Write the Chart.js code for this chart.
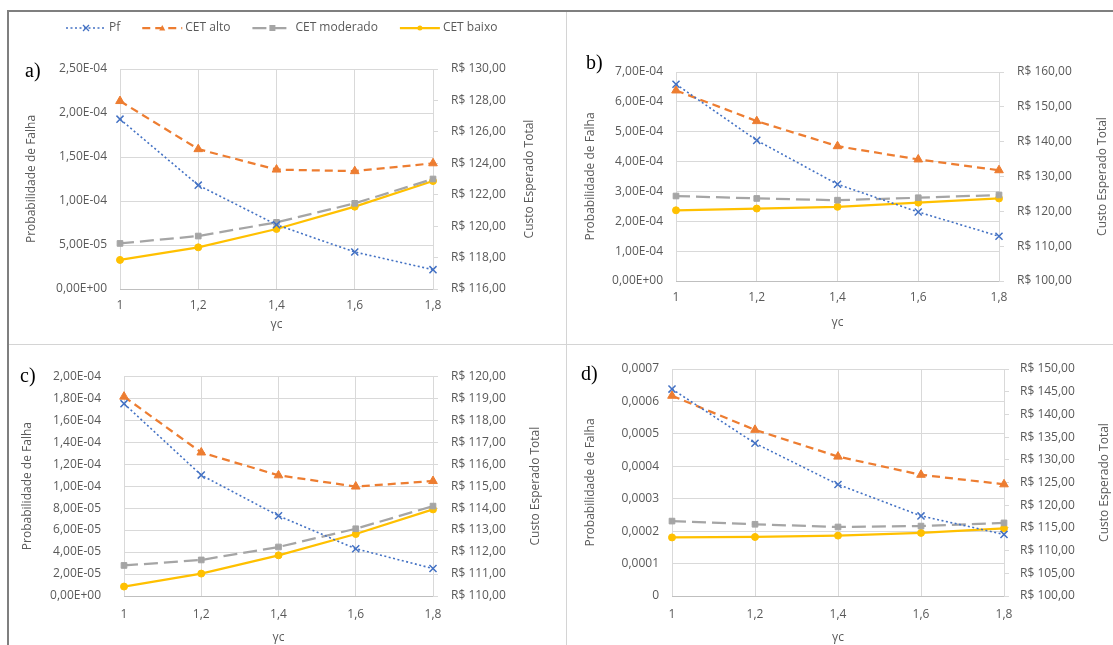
<!DOCTYPE html>
<html>
<head>
<meta charset="utf-8">
<script src="https://cdn.jsdelivr.net/npm/chart.js@4.4.1/dist/chart.umd.min.js"></script>
<style>
  html, body { margin: 0; padding: 0; background: #fff; }
  body { width: 1113px; height: 645px; position: relative; overflow: hidden; }
  canvas { position: absolute; }
  .line { position: absolute; }
  .plabel { position: absolute; font-family: "Liberation Serif", "DejaVu Serif", serif; font-size: 20px; line-height: 20px; color: #000; }
</style>
</head>
<body>
<div class="line" style="left:7px;top:10px;width:1106px;height:2px;background:#7f7f7f"></div>
<div class="line" style="left:7px;top:10px;width:2px;height:635px;background:#7f7f7f"></div>
<div class="line" style="left:566px;top:12px;width:1px;height:633px;background:#d4d4d4"></div>
<div class="line" style="left:9px;top:344px;width:1104px;height:1px;background:#d4d4d4"></div>

<canvas id="ca" width="556" height="330" style="left:9px;top:13px"></canvas>
<canvas id="cb" width="546" height="330" style="left:567px;top:13px"></canvas>
<canvas id="cc" width="556" height="299" style="left:9px;top:346px"></canvas>
<canvas id="cd" width="546" height="299" style="left:567px;top:346px"></canvas>

<div class="plabel" style="left:25px;top:60px">a)</div>
<div class="plabel" style="left:586px;top:52px">b)</div>
<div class="plabel" style="left:20px;top:365px">c)</div>
<div class="plabel" style="left:581px;top:363px">d)</div>

<script>
// ---------------- DATA ----------------
const gammaC = ['1', '1,2', '1,4', '1,6', '1,8'];
const seriesNames = ['Pf', 'CET alto', 'CET moderado', 'CET baixo'];
const xTitle = 'γc';
const leftTitle = 'Probabilidade de Falha';
const rightTitle = 'Custo Esperado Total';

// a)
const pfA       = [1.93e-4, 1.18e-4, 7.3e-5, 4.2e-5, 2.2e-5];
const cetAltoA  = [127.96, 124.9, 123.6, 123.5, 124.0];
const cetModA   = [118.9, 119.37, 120.24, 121.45, 123.0];
const cetBaixoA = [117.85, 118.65, 119.82, 121.24, 122.87];
const leftValsA  = [0, 5e-5, 1e-4, 1.5e-4, 2e-4, 2.5e-4];
const leftLblsA  = ['0,00E+00', '5,00E-05', '1,00E-04', '1,50E-04', '2,00E-04', '2,50E-04'];
const rightValsA = [116, 118, 120, 122, 124, 126, 128, 130];
const rightLblsA = ['R$ 116,00', 'R$ 118,00', 'R$ 120,00', 'R$ 122,00', 'R$ 124,00', 'R$ 126,00', 'R$ 128,00', 'R$ 130,00'];

// b)
const pfB       = [6.59e-4, 4.71e-4, 3.24e-4, 2.31e-4, 1.50e-4];
const cetAltoB  = [154.7, 145.9, 138.7, 134.9, 131.8];
const cetModB   = [124.4, 123.7, 123.2, 123.9, 124.7];
const cetBaixoB = [120.3, 120.8, 121.3, 122.5, 123.7];
const leftValsB  = [0, 1e-4, 2e-4, 3e-4, 4e-4, 5e-4, 6e-4, 7e-4];
const leftLblsB  = ['0,00E+00', '1,00E-04', '2,00E-04', '3,00E-04', '4,00E-04', '5,00E-04', '6,00E-04', '7,00E-04'];
const rightValsB = [100, 110, 120, 130, 140, 150, 160];
const rightLblsB = ['R$ 100,00', 'R$ 110,00', 'R$ 120,00', 'R$ 130,00', 'R$ 140,00', 'R$ 150,00', 'R$ 160,00'];

// c)
const pfC       = [1.75e-4, 1.10e-4, 7.3e-5, 4.3e-5, 2.5e-5];
const cetAltoC  = [119.07, 116.53, 115.49, 114.98, 115.23];
const cetModC   = [111.39, 111.64, 112.23, 113.06, 114.09];
const cetBaixoC = [110.43, 111.02, 111.85, 112.82, 113.94];
const leftValsC  = [0, 2e-5, 4e-5, 6e-5, 8e-5, 1e-4, 1.2e-4, 1.4e-4, 1.6e-4, 1.8e-4, 2e-4];
const leftLblsC  = ['0,00E+00', '2,00E-05', '4,00E-05', '6,00E-05', '8,00E-05', '1,00E-04', '1,20E-04', '1,40E-04', '1,60E-04', '1,80E-04', '2,00E-04'];
const rightValsC = [110, 111, 112, 113, 114, 115, 116, 117, 118, 119, 120];
const rightLblsC = ['R$ 110,00', 'R$ 111,00', 'R$ 112,00', 'R$ 113,00', 'R$ 114,00', 'R$ 115,00', 'R$ 116,00', 'R$ 117,00', 'R$ 118,00', 'R$ 119,00', 'R$ 120,00'];

// d)
const pfD       = [6.38e-4, 4.71e-4, 3.44e-4, 2.47e-4, 1.90e-4];
const cetAltoD  = [144.1, 136.6, 130.7, 126.7, 124.6];
const cetModD   = [116.5, 115.8, 115.2, 115.4, 116.1];
const cetBaixoD = [112.9, 113.0, 113.3, 113.9, 114.9];
const leftValsD  = [0, 0.0001, 0.0002, 0.0003, 0.0004, 0.0005, 0.0006, 0.0007];
const leftLblsD  = ['0', '0,0001', '0,0002', '0,0003', '0,0004', '0,0005', '0,0006', '0,0007'];
const rightValsD = [100, 105, 110, 115, 120, 125, 130, 135, 140, 145, 150];
const rightLblsD = ['R$ 100,00', 'R$ 105,00', 'R$ 110,00', 'R$ 115,00', 'R$ 120,00', 'R$ 125,00', 'R$ 130,00', 'R$ 135,00', 'R$ 140,00', 'R$ 145,00', 'R$ 150,00'];

// ---------------- STYLE ----------------
const FS = 12;
const FONT = '"Open Sans", "DejaVu Sans", sans-serif';
const TXT = '#595959';
const GRID = '#d9d9d9';
const LH = FS * 1.2;

const seriesStyle = [
  { color: '#4472C4', dash: [2, 2.5], width: 1.6, point: 'crossRot', radius: 5, pbw: 1.5, axis: 'y' },
  { color: '#ED7D31', dash: [8, 5],   width: 2.25, point: 'triangle', radius: 5, pbw: 1, axis: 'y2' },
  { color: '#A5A5A5', dash: [14, 6],  width: 2.25, point: 'rect', radius: 4, pbw: 1, axis: 'y2' },
  { color: '#FFC000', dash: [],       width: 2.25, point: 'circle', radius: 3.5, pbw: 1, axis: 'y2' }
];

function drawMarker(ctx, style, x, y, r, color) {
  ctx.save();
  ctx.fillStyle = color; ctx.strokeStyle = color; ctx.setLineDash([]);
  ctx.beginPath();
  if (style === 'crossRot') {
    ctx.lineWidth = 1.3;
    ctx.moveTo(x - r, y - r); ctx.lineTo(x + r, y + r);
    ctx.moveTo(x - r, y + r); ctx.lineTo(x + r, y - r);
    ctx.stroke();
  } else if (style === 'triangle') {
    ctx.moveTo(x, y - r); ctx.lineTo(x + r, y + r * 0.8); ctx.lineTo(x - r, y + r * 0.8); ctx.closePath(); ctx.fill();
  } else if (style === 'rect') {
    ctx.rect(x - r, y - r, 2 * r, 2 * r); ctx.fill();
  } else {
    ctx.arc(x, y, r, 0, Math.PI * 2); ctx.fill();
  }
  ctx.restore();
}

const rightTitlePlugin = {
  id: 'rightTitle',
  afterDraw(chart, args, opts) {
    const { ctx, chartArea } = chart;
    ctx.save();
    ctx.translate(opts.x, (chartArea.top + chartArea.bottom) / 2);
    ctx.rotate(-Math.PI / 2);
    ctx.font = FS + 'px ' + FONT;
    ctx.fillStyle = TXT; ctx.textAlign = 'center'; ctx.textBaseline = 'middle';
    ctx.fillText(opts.text, 0, 0);
    ctx.restore();
  }
};

const topLegendPlugin = {
  id: 'topLegend',
  afterDraw(chart, args, opts) {
    if (!opts.show) return;
    const ctx = chart.ctx;
    let x = opts.x; const y = opts.y;
    ctx.save();
    ctx.font = FS + 'px ' + FONT;
    chart.data.datasets.forEach((ds, i) => {
      const st = seriesStyle[i];
      ctx.save();
      ctx.strokeStyle = st.color; ctx.lineWidth = st.width; ctx.setLineDash(st.dash);
      ctx.beginPath(); ctx.moveTo(x, y); ctx.lineTo(x + opts.sample, y); ctx.stroke();
      ctx.restore();
      drawMarker(ctx, st.point, x + opts.sample / 2, y, st.point === 'circle' ? 2.5 : 3, st.color);
      x += opts.sample + 3;
      ctx.fillStyle = TXT; ctx.textAlign = 'left'; ctx.textBaseline = 'middle';
      ctx.fillText(ds.label, x, y);
      x += ctx.measureText(ds.label).width + opts.gap;
    });
    ctx.restore();
  }
};

function makePanel(id, g, series, left, right, legend) {
  const W = g.w, H = g.h;
  const PL = g.plotL - g.x, PR = g.plotR - g.x, PT = g.plotT - g.y, PB = g.plotB - g.y;
  const datasets = series.map((vals, i) => {
    const st = seriesStyle[i];
    return {
      label: seriesNames[i], data: vals, yAxisID: st.axis,
      borderColor: st.color, backgroundColor: st.color, borderWidth: st.width, borderDash: st.dash,
      pointStyle: st.point, pointRadius: st.radius, pointBackgroundColor: st.color, pointBorderColor: st.color,
      pointBorderWidth: st.pbw, tension: 0, fill: false
    };
  });
  const tickFont = { family: FONT, size: FS };
  return new Chart(document.getElementById(id), {
    type: 'line',
    data: { labels: gammaC, datasets },
    options: {
      responsive: false, animation: false, devicePixelRatio: 1,
      layout: { padding: { left: 0, top: PT, right: 0, bottom: 0 } },
      plugins: {
        legend: { display: false }, tooltip: { enabled: false },
        rightTitle: { text: rightTitle, x: g.rightTitleX - g.x },
        topLegend: legend ? { show: true, x: legend.x - g.x, y: legend.y - g.y, sample: 40, gap: 22 } : { show: false }
      },
      scales: {
        x: {
          type: 'category', offset: false,
          grid: { color: GRID, drawTicks: false, offset: false },
          border: { color: '#bfbfbf' },
          ticks: { color: TXT, font: tickFont, padding: g.xTickY - g.plotB - LH / 2, maxRotation: 0, autoSkip: false },
          title: { display: true, text: xTitle, color: TXT, font: tickFont, padding: { top: 0, bottom: Math.max(0, (g.y + H) - g.xTitleY - LH / 2) } },
          afterFit: s => { s.height = H - PB; }
        },
        y: {
          position: 'left', min: left.vals[0], max: left.vals[left.vals.length - 1],
          grid: { color: GRID, drawTicks: false },
          border: { display: false },
          afterBuildTicks: s => { s.ticks = left.vals.map(v => ({ value: v })); },
          ticks: { color: TXT, font: tickFont, padding: g.plotL - g.leftTickR, callback: (v, i) => left.lbls[i] },
          title: { display: true, text: leftTitle, color: TXT, font: tickFont, padding: { top: (g.leftTitleX - g.x) - LH / 2, bottom: 0 } },
          afterFit: s => { s.width = PL; }
        },
        y2: {
          position: 'right', min: right.vals[0], max: right.vals[right.vals.length - 1],
          grid: { drawOnChartArea: false, drawTicks: true, tickLength: 5, color: GRID },
          border: { color: GRID },
          afterBuildTicks: s => { s.ticks = right.vals.map(v => ({ value: v })); },
          ticks: { color: TXT, font: tickFont, padding: g.rightTickL - g.plotR - 5, callback: (v, i) => right.lbls[i] },
          afterFit: s => { s.width = W - PR; }
        }
      }
    },
    plugins: [rightTitlePlugin, topLegendPlugin]
  });
}

makePanel('ca',
  { x: 9, y: 13, w: 556, h: 330, plotL: 120, plotR: 433, plotT: 69, plotB: 289, leftTickR: 107, leftTitleX: 32, rightTickL: 451, rightTitleX: 530, xTickY: 306, xTitleY: 325 },
  [pfA, cetAltoA, cetModA, cetBaixoA],
  { vals: leftValsA, lbls: leftLblsA }, { vals: rightValsA, lbls: rightLblsA },
  { x: 66, y: 28 });

makePanel('cb',
  { x: 567, y: 13, w: 546, h: 330, plotL: 676, plotR: 999, plotT: 72, plotB: 281, leftTickR: 663, leftTitleX: 591, rightTickL: 1017, rightTitleX: 1103, xTickY: 298, xTitleY: 323 },
  [pfB, cetAltoB, cetModB, cetBaixoB],
  { vals: leftValsB, lbls: leftLblsB }, { vals: rightValsB, lbls: rightLblsB }, null);

makePanel('cc',
  { x: 9, y: 346, w: 556, h: 299, plotL: 124, plotR: 433, plotT: 370, plotB: 596, leftTickR: 101, leftTitleX: 28, rightTickL: 451, rightTitleX: 536, xTickY: 615, xTitleY: 638 },
  [pfC, cetAltoC, cetModC, cetBaixoC],
  { vals: leftValsC, lbls: leftLblsC }, { vals: rightValsC, lbls: rightLblsC }, null);

makePanel('cd',
  { x: 567, y: 346, w: 546, h: 299, plotL: 672, plotR: 1004, plotT: 369, plotB: 596, leftTickR: 659, leftTitleX: 591, rightTickL: 1020, rightTitleX: 1105, xTickY: 615, xTitleY: 638 },
  [pfD, cetAltoD, cetModD, cetBaixoD],
  { vals: leftValsD, lbls: leftLblsD }, { vals: rightValsD, lbls: rightLblsD }, null);
</script>
</body>
</html>
